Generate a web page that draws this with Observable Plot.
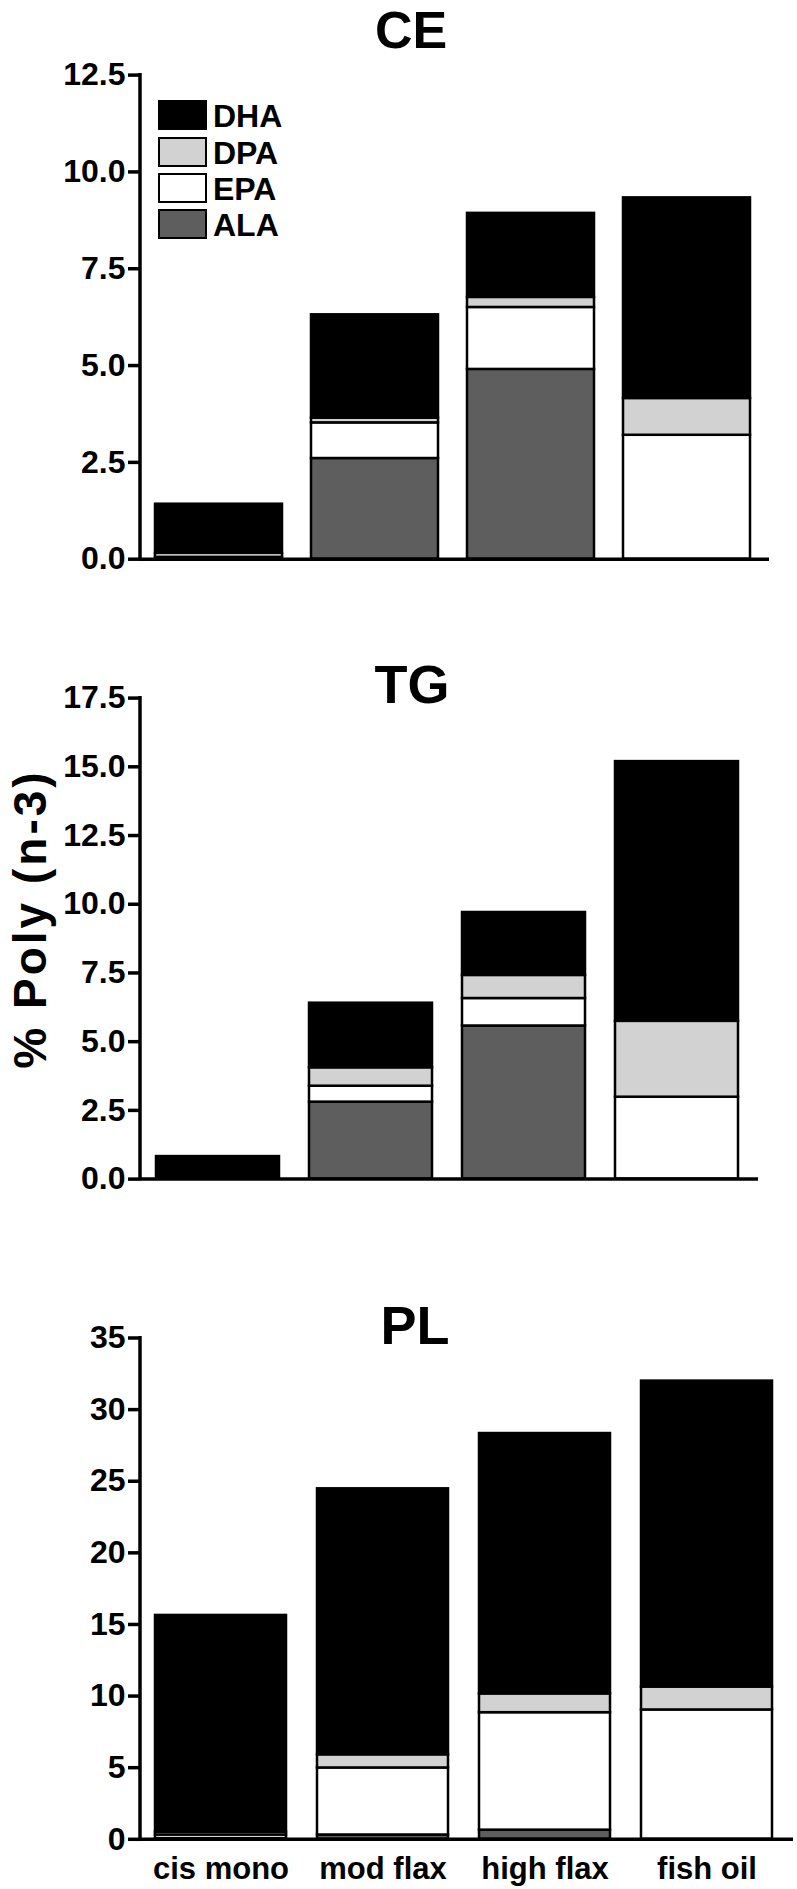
<!DOCTYPE html>
<html><head><meta charset="utf-8">
<script src="https://cdn.jsdelivr.net/npm/d3@7"></script>
<script src="https://cdn.jsdelivr.net/npm/@observablehq/plot@0.6"></script>
<style>
html,body{margin:0;padding:0;background:#fff;}
#root{position:relative;width:797px;height:1889px;font-family:"Liberation Sans",Arial,Helvetica,sans-serif;font-weight:bold;color:#000;overflow:hidden}
.panel{position:absolute;left:0}
.title{position:absolute;font-size:54px;line-height:40px;transform:translateX(-50%);white-space:nowrap}
.ylab{position:absolute;font-size:46px;letter-spacing:3px;white-space:nowrap;transform:translate(-50%,-50%) rotate(-90deg)}
.lbox{position:absolute;box-sizing:border-box;border:2.5px solid #000}
.ltxt{position:absolute;font-size:32px;white-space:nowrap}
</style></head><body><div id="root"></div><script>
// ---- data ----
const diets = ["cis mono", "mod flax", "high flax", "fish oil"];
const acids = ["ALA", "EPA", "DPA", "DHA"];          // stacking order, bottom -> top
const acidFills = ["#5e5e5e", "#ffffff", "#d2d2d2", "#000000"];
const legendOrder = ["DHA", "DPA", "EPA", "ALA"];

const CE_ALA = [0.05, 2.60, 4.90, 0];
const CE_EPA = [0.10, 0.92, 1.60, 3.20];
const CE_DPA = [0, 0.12, 0.26, 0.95];
const CE_DHA = [1.27, 2.67, 2.17, 5.18];

const TG_ALA = [0, 2.80, 5.57, 0];
const TG_EPA = [0, 0.58, 1.00, 2.98];
const TG_DPA = [0, 0.67, 0.84, 2.76];
const TG_DHA = [0.82, 2.35, 2.29, 9.45];

const PL_ALA = [0.05, 0.30, 0.64, 0];
const PL_EPA = [0.25, 4.68, 8.20, 9.03];
const PL_DPA = [0.20, 0.92, 1.31, 1.60];
const PL_DHA = [15.13, 18.57, 18.18, 21.36];

const CE_ticks = [0, 2.5, 5, 7.5, 10, 12.5];
const TG_ticks = [0, 2.5, 5, 7.5, 10, 12.5, 15, 17.5];
const PL_ticks = [0, 5, 10, 15, 20, 25, 30, 35];

const yLabel = "% Poly (n-3)";

// ---- drawing ----
const root = document.getElementById("root");
const FONT = '"Liberation Sans", Arial, Helvetica, sans-serif';

function rowsOf(series) {
  return diets.flatMap((d, i) => acids.map((a, j) => ({diet: d, acid: a, value: series[j][i]})))
    .filter(r => r.value > 0);
}

function axisLine(index, scales, values, dims) {
  const l = document.createElementNS("http://www.w3.org/2000/svg", "line");
  const x = dims.marginLeft;
  l.setAttribute("x1", x); l.setAttribute("x2", x);
  l.setAttribute("y1", dims.marginTop - 1.5);
  l.setAttribute("y2", dims.height - dims.marginBottom + 1.75);
  l.setAttribute("stroke", "#000"); l.setAttribute("stroke-width", 3.5);
  return l;
}

function panel(cfg) {
  const marks = [
    Plot.barY(rowsOf(cfg.series), {x: "diet", y: "value", fill: "acid", stroke: "#000", strokeWidth: 2.5, inset: 0}),
    Plot.ruleY([0], {stroke: "#000", strokeWidth: 3.5}),
    axisLine,
    Plot.axisY({ticks: cfg.ticks, tickFormat: cfg.fmt, tickSize: 12, tickPadding: 3, strokeWidth: 3.5, label: null, fontSize: 32})
  ];
  if (cfg.showX) marks.push(Plot.axisX({tickSize: 0, tickPadding: 18, label: null, fontSize: 31}));
  const svg = Plot.plot({
    width: 797, height: cfg.height,
    marginTop: cfg.mTop, marginBottom: cfg.mBottom, marginLeft: 140, marginRight: cfg.mRight,
    style: {fontFamily: FONT, fontWeight: "bold", fontSize: "32px", color: "#000", background: "transparent", overflow: "visible"},
    x: {type: "band", domain: diets, range: cfg.xRange, paddingInner: cfg.pi, paddingOuter: 0, align: 0, axis: cfg.showX ? undefined : null},
    y: {domain: [0, cfg.yMax]},
    color: {domain: acids, range: acidFills},
    marks
  });
  svg.classList.add("panel");
  svg.style.top = cfg.top + "px";
  root.appendChild(svg);
}

panel({top: 0, height: 600, mTop: 74.6, mBottom: 41.3, mRight: 28, xRange: [155, 752], pi: 0.188,
  ticks: CE_ticks, fmt: d3.format(".1f"), yMax: 12.5, series: [CE_ALA, CE_EPA, CE_DPA, CE_DHA], showX: false});
panel({top: 620, height: 600, mTop: 77.6, mBottom: 41.4, mRight: 39, xRange: [156, 742], pi: 0.193,
  ticks: TG_ticks, fmt: d3.format(".1f"), yMax: 17.5, series: [TG_ALA, TG_EPA, TG_DPA, TG_DHA], showX: false});
panel({top: 1240, height: 649, mTop: 97.5, mBottom: 50.2, mRight: 4, xRange: [155, 776], pi: 0.1885,
  ticks: PL_ticks, fmt: d3.format("d"), yMax: 35, series: [PL_ALA, PL_EPA, PL_DPA, PL_DHA], showX: true});

// titles
[["CE", 411, 10, 52], ["TG", 412, 664, 54], ["PL", 415, 1305, 54]].forEach(([t, x, y, fs]) => {
  const d = document.createElement("div");
  d.className = "title"; d.textContent = t;
  d.style.left = x + "px"; d.style.top = y + "px"; d.style.fontSize = fs + "px";
  root.appendChild(d);
});

// y label
const yl = document.createElement("div");
yl.className = "ylab"; yl.textContent = yLabel;
yl.style.left = "30px"; yl.style.top = "919px";
root.appendChild(yl);

// legend
const legendTops = [100, 137, 173, 209];
legendOrder.forEach((a, i) => {
  const b = document.createElement("div");
  b.className = "lbox";
  b.style.left = "158px"; b.style.top = legendTops[i] + "px";
  b.style.width = "49px"; b.style.height = "30px";
  b.style.background = acidFills[acids.indexOf(a)];
  root.appendChild(b);
  const t = document.createElement("div");
  t.className = "ltxt"; t.textContent = a;
  t.style.left = "213px"; t.style.top = legendTops[i] + "px";
  t.style.lineHeight = "32px";
  root.appendChild(t);
});
</script></body></html>
